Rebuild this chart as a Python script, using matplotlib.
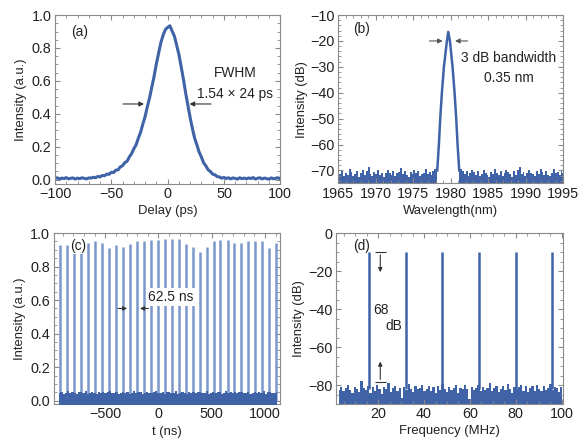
import numpy as np
import matplotlib
matplotlib.use("Agg")
from matplotlib import pyplot as plt
from matplotlib.ticker import MultipleLocator, FormatStrFormatter

plt.rcParams["font.family"] = ["Liberation Sans", "DejaVu Sans"]
plt.rcParams["font.size"] = 10

BLUE = "#3f63a6"
LIGHT = "#7b98cb"
FRAME = "#8a8a8a"
TXT = "#222222"
LAB = 9.4   # axis label size
ANN = 9.9   # annotation size
TICK = 10.4

# --- (a) autocorrelation trace, sampled every 2 ps from -100 to 100 ---
ac_delay = np.arange(-100, 101, 2)
ac_int = [
    0.006, 0.012, 0.004, 0.010, 0.007, 0.013, 0.005, 0.009, 0.011, 0.004,
    0.010, 0.006, 0.012, 0.008, 0.005, 0.011, 0.010, 0.015, 0.012, 0.020,
    0.017, 0.026, 0.024, 0.034, 0.033, 0.045, 0.044, 0.058, 0.060, 0.078,
    0.085, 0.104, 0.112, 0.138, 0.158, 0.188, 0.212, 0.252, 0.288, 0.338,
    0.383, 0.443, 0.498, 0.563, 0.628, 0.703, 0.768, 0.832, 0.878, 0.912,
    0.925, 0.935, 0.903, 0.872, 0.818, 0.762, 0.688, 0.612, 0.528, 0.452,
    0.378, 0.312, 0.252, 0.212, 0.168, 0.138, 0.102, 0.084, 0.060, 0.050,
    0.034, 0.030, 0.019, 0.017, 0.009, 0.014, 0.007, 0.012, 0.005, 0.011,
    0.008, 0.004, 0.012, 0.006, 0.010, 0.005, 0.011, 0.007, 0.013, 0.004,
    0.009, 0.012, 0.005, 0.010, 0.007, 0.003, 0.011, 0.006, 0.009, 0.012,
    0.005,
]

# --- (b) optical spectrum ---
wl_peak = [1978.2, 1978.42, 1978.6, 1978.82, 1979.09, 1979.49, 1979.67,
           1979.89, 1980.24, 1980.51, 1980.73, 1980.91, 1981.13]
db_peak = [-70, -60, -50, -40, -30, -20, -16.5, -20, -30, -40, -50, -60, -70]
floor_b_left = [
    -70.2, -71.5, -69.8, -72.3, -70.9, -71.8, -69.5, -70.6, -72.0, -71.2,
    -70.1, -72.5, -71.0, -69.9, -71.7, -70.4, -68.6, -71.3, -72.1, -70.7,
    -71.5, -70.0, -71.9, -70.8, -72.4, -71.1, -69.7, -70.9, -71.6, -70.3,
    -72.2, -71.0, -70.5, -68.9, -71.4, -70.2, -71.8, -72.6, -70.6, -71.2,
    -69.9, -71.0, -70.4, -72.0, -71.5, -70.8, -69.6, -71.3, -70.7, -71.9,
    -70.1, -69.4, -68.8,
]
floor_b_right = [
    -68.9, -69.6, -70.3, -71.5, -70.1, -72.2, -71.0, -69.8, -70.7, -71.9,
    -70.4, -72.3, -71.2, -69.9, -70.8, -71.6, -72.5, -70.5, -71.3, -69.4,
    -70.9, -71.8, -70.2, -72.0, -71.1, -69.7, -70.6, -71.4, -72.4, -70.3,
    -71.7, -70.0, -68.8, -71.2, -70.6, -72.1, -71.0, -69.9, -70.8, -71.5,
    -72.2, -70.4, -71.3, -69.6, -70.7, -71.9, -70.1, -71.6, -72.3, -70.9,
    -69.3, -71.1, -70.5, -71.8, -70.2, -71.0,
]

# --- (c) pulse train ---
pulse_t = [-922, -857, -791, -726, -660, -595, -530, -464, -399, -333,
           -268, -203, -137, -72, -6, 59, 125, 190, 255, 321,
           386, 452, 517, 582, 648, 713, 779, 844, 909, 975,
           1040, 1106]
pulse_h = [0.930, 0.926, 0.942, 0.942, 0.942, 0.950, 0.942, 0.913, 0.926, 0.918,
           0.934, 0.953, 0.953, 0.961, 0.961, 0.965, 0.965, 0.965, 0.934, 0.918,
           0.887, 0.918, 0.953, 0.957, 0.957, 0.938, 0.942, 0.950, 0.953, 0.950,
           0.910, 0.942]
floor_c = [
    0.046, 0.052, 0.041, 0.048, 0.055, 0.043, 0.050, 0.047, 0.039, 0.053,
    0.049, 0.044, 0.056, 0.042, 0.048, 0.051, 0.045, 0.040, 0.054, 0.047,
    0.050, 0.043, 0.049, 0.057, 0.044, 0.046, 0.052, 0.041, 0.048, 0.053,
    0.045, 0.050, 0.042, 0.047, 0.055, 0.044, 0.049, 0.051, 0.040, 0.046,
    0.054, 0.048, 0.043, 0.050, 0.056, 0.045, 0.047, 0.052, 0.041, 0.049,
    0.053, 0.044, 0.048, 0.055, 0.042, 0.047, 0.051, 0.045, 0.039, 0.050,
    0.046, 0.054, 0.043, 0.049, 0.052, 0.044, 0.048, 0.057, 0.042, 0.046,
    0.051, 0.045, 0.049, 0.053, 0.041, 0.048, 0.055, 0.044, 0.050, 0.046,
    0.052, 0.043, 0.049, 0.054, 0.045, 0.047, 0.051, 0.040, 0.048, 0.053,
    0.044, 0.050, 0.046, 0.055, 0.042, 0.049, 0.051, 0.045, 0.047, 0.052,
]

# --- (d) RF spectrum ---
rf_peak_f = [16, 32, 48, 64, 80, 96]
rf_peak_db = [-9.8, -9.9, -9.8, -9.9, -9.9, -9.8]
floor_d = [
    -82.5, -80.8, -83.1, -81.4, -79.9, -82.2, -84.0, -80.6, -81.9, -83.3,
    -77.8, -81.2, -82.6, -80.4, -83.8, -81.0, -82.9, -79.6, -81.7, -84.5,
    -80.9, -82.0, -78.6, -83.2, -81.5, -80.2, -82.7, -81.1, -86.5, -80.7,
    -82.4, -79.3, -81.8, -83.6, -80.5, -82.1, -81.3, -79.8, -83.0, -81.6,
    -80.1, -82.8, -81.0, -84.2, -80.3, -82.3, -79.1, -81.9, -83.4, -80.8,
    -82.6, -81.2, -80.0, -83.7, -81.4, -82.0, -79.5, -81.7, -87.2, -80.6,
    -82.5, -81.1, -79.7, -83.1, -80.9, -82.2, -81.5, -78.9, -82.8, -81.3,
    -80.4, -83.5, -81.8, -80.2, -82.4, -79.4, -81.6, -83.9, -80.7, -82.1,
    -81.0, -79.9, -82.7, -80.5, -83.3, -81.4, -80.1, -82.9, -79.6, -81.8,
    -83.0, -80.3, -82.3, -81.2, -79.2, -82.6, -80.8, -81.5, -83.6, -80.6,
]


def style(ax):
    for s in ax.spines.values():
        s.set_color(FRAME)
        s.set_linewidth(0.8)
    ax.tick_params(which="both", direction="in", top=True, right=True,
                   color=FRAME, labelcolor=TXT, labelsize=TICK, pad=2.5)
    ax.tick_params(which="major", length=3.5)
    ax.tick_params(which="minor", length=2)


fig = plt.figure(figsize=(5.85, 4.43), dpi=100)
ax_a = fig.add_axes([0.094, 0.585, 0.385, 0.381])
ax_b = fig.add_axes([0.578, 0.586, 0.385, 0.380])
ax_c = fig.add_axes([0.0915, 0.088, 0.387, 0.386])
ax_d = fig.add_axes([0.574, 0.089, 0.388, 0.385])

# --- (a) ---
ax_a.plot(ac_delay, ac_int, color=BLUE, lw=2.2)
ax_a.set_xlim(-100, 100)
ax_a.set_ylim(-0.025, 1.0)
ax_a.xaxis.set_major_locator(MultipleLocator(50))
ax_a.xaxis.set_minor_locator(MultipleLocator(10))
ax_a.yaxis.set_major_locator(MultipleLocator(0.2))
ax_a.yaxis.set_minor_locator(MultipleLocator(0.05))
ax_a.yaxis.set_major_formatter(FormatStrFormatter("%.1f"))
ax_a.set_xlabel("Delay (ps)", color=TXT, fontsize=LAB, labelpad=3)
ax_a.set_ylabel("Intensity (a.u.)", color=TXT, fontsize=LAB, labelpad=3)
ax_a.text(-86, 0.90, "(a)", color=TXT, va="center", fontsize=ANN)
ax_a.annotate("", xy=(-18.5, 0.46), xytext=(-42, 0.46),
              arrowprops=dict(arrowstyle="-|>", color="#333", lw=0.8, mutation_scale=7))
ax_a.annotate("", xy=(17, 0.46), xytext=(41, 0.46),
              arrowprops=dict(arrowstyle="-|>", color="#333", lw=0.8, mutation_scale=7))
ax_a.text(60, 0.647, "FWHM", ha="center", va="center", color=TXT, fontsize=ANN)
ax_a.text(60, 0.52, "1.54 × 24 ps", ha="center", va="center", color=TXT, fontsize=ANN)
style(ax_a)

# --- (b) ---
xl = np.linspace(1965, 1978.2, len(floor_b_left))
xr = np.linspace(1981.1, 1995, len(floor_b_right))
ax_b.fill_between(xl, -80, floor_b_left, step="mid", color=BLUE, lw=0)
ax_b.fill_between(xr, -80, floor_b_right, step="mid", color=BLUE, lw=0)
ax_b.plot(wl_peak, db_peak, color=BLUE, lw=1.8)
ax_b.set_xlim(1965, 1995)
ax_b.set_ylim(-75, -10)
ax_b.xaxis.set_major_locator(MultipleLocator(5))
ax_b.xaxis.set_minor_locator(MultipleLocator(1))
ax_b.yaxis.set_major_locator(MultipleLocator(10))
ax_b.yaxis.set_minor_locator(MultipleLocator(2))
ax_b.set_xlabel("Wavelength(nm)", color=TXT, fontsize=LAB, labelpad=3)
ax_b.set_ylabel("Intensity (dB)", color=TXT, fontsize=LAB, labelpad=2)
ax_b.text(1967, -15.5, "(b)", color=TXT, va="center", fontsize=ANN)
ax_b.annotate("", xy=(1979.3, -20), xytext=(1976.8, -20),
              arrowprops=dict(arrowstyle="-|>", color="#555", lw=0.8, mutation_scale=7))
ax_b.annotate("", xy=(1980.2, -20), xytext=(1982.6, -20),
              arrowprops=dict(arrowstyle="-|>", color="#555", lw=0.8, mutation_scale=7))
ax_b.text(1987.7, -26.4, "3 dB bandwidth", ha="center", va="center", color=TXT, fontsize=ANN)
ax_b.text(1987.7, -34.2, "0.35 nm", ha="center", va="center", color=TXT, fontsize=ANN)
style(ax_b)

# --- (c) ---
xc = np.linspace(-930, 1112, len(floor_c))
ax_c.fill_between(xc, -0.05, floor_c, step="mid", color=BLUE, lw=0, zorder=3)
ax_c.vlines(pulse_t, 0, pulse_h, color=LIGHT, lw=1.8, zorder=2)
ax_c.set_xlim(-985, 1140)
ax_c.set_ylim(-0.02, 1.0)
ax_c.xaxis.set_major_locator(MultipleLocator(500))
ax_c.xaxis.set_minor_locator(MultipleLocator(100))
ax_c.yaxis.set_major_locator(MultipleLocator(0.2))
ax_c.yaxis.set_minor_locator(MultipleLocator(0.05))
ax_c.yaxis.set_major_formatter(FormatStrFormatter("%.1f"))
ax_c.set_xlabel("t (ns)", color=TXT, fontsize=LAB, labelpad=3)
ax_c.set_ylabel("Intensity (a.u.)", color=TXT, fontsize=LAB, labelpad=3)
ax_c.text(-830, 0.92, "(c)", color=TXT, va="center", fontsize=ANN, zorder=5,
          bbox=dict(facecolor="white", edgecolor="none", pad=0.5))
ax_c.text(-95, 0.62, "62.5 ns", color=TXT, va="center", fontsize=ANN, zorder=5,
          bbox=dict(facecolor="white", edgecolor="none", pad=1.5))
ax_c.annotate("", xy=(-268, 0.55), xytext=(-405, 0.55), zorder=6,
              arrowprops=dict(arrowstyle="-|>", color="#333", lw=0.8, mutation_scale=6))
ax_c.annotate("", xy=(-200, 0.55), xytext=(-68, 0.55), zorder=6,
              arrowprops=dict(arrowstyle="-|>", color="#333", lw=0.8, mutation_scale=6))
style(ax_c)

# --- (d) ---
xd = np.linspace(2.9, 100, len(floor_d))
ax_d.fill_between(xd, -95, floor_d, step="mid", color=BLUE, lw=0)
ax_d.vlines(rf_peak_f, -82, rf_peak_db, color=BLUE, lw=1.8)
ax_d.set_xlim(1.5, 100.5)
ax_d.set_ylim(-89.5, 0)
ax_d.xaxis.set_major_locator(MultipleLocator(20))
ax_d.xaxis.set_minor_locator(MultipleLocator(5))
ax_d.yaxis.set_major_locator(MultipleLocator(20))
ax_d.yaxis.set_minor_locator(MultipleLocator(5))
ax_d.set_xlabel("Frequency (MHz)", color=TXT, fontsize=LAB, labelpad=3)
ax_d.set_ylabel("Intensity (dB)", color=TXT, fontsize=LAB, labelpad=2)
ax_d.text(9.2, -6.7, "(d)", color=TXT, va="center", fontsize=ANN)
ax_d.hlines([-10, -78.3], 18.5, 23.3, color="#333", lw=0.8)
ax_d.annotate("", xy=(20.9, -22), xytext=(20.9, -10),
              arrowprops=dict(arrowstyle="-|>", color="#333", lw=0.8, mutation_scale=6))
ax_d.annotate("", xy=(20.9, -66), xytext=(20.9, -78.3),
              arrowprops=dict(arrowstyle="-|>", color="#333", lw=0.8, mutation_scale=6))
ax_d.text(21.2, -40.6, "68", ha="center", va="center", color=TXT, fontsize=ANN)
ax_d.text(26.8, -48.7, "dB", ha="center", va="center", color=TXT, fontsize=ANN)
style(ax_d)

fig.savefig("out.png", dpi=100)
